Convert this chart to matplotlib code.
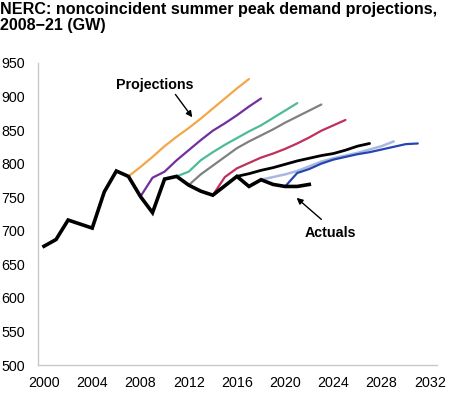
import matplotlib
matplotlib.use("Agg")
import matplotlib.pyplot as plt

plt.rcParams['font.family'] = ['Liberation Sans', 'DejaVu Sans']

# Actual noncoincident summer peak demand (GW)
actual_years = list(range(2000, 2023))
actual_vals = [677, 687, 716, 710, 704, 758, 789, 781, 751, 727, 777, 781,
               768, 759, 753, 767, 781, 766, 776, 769, 766, 766, 769]

# Projections, each starting from the last actual year
proj_starts = [2007, 2008, 2011, 2012, 2014, 2016, 2018, 2020]
proj_vals = [
    [781, 795, 810, 826, 840, 853, 867, 882, 897, 912, 926],
    [751, 779, 788, 805, 820, 835, 849, 860, 872, 885, 897],
    [781, 788, 805, 817, 828, 838, 848, 857, 868, 879, 890],
    [768, 784, 797, 810, 823, 833, 842, 851, 861, 870, 879, 888],
    [753, 780, 793, 801, 809, 815, 822, 830, 839, 849, 857, 865],
    [781, 785, 790, 794, 799, 804, 808, 812, 815, 820, 826, 830],
    [776, 780, 784, 789, 796, 803, 808, 812, 816, 821, 826, 833],
    [766, 786, 792, 800, 806, 810, 814, 817, 821, 825, 829, 830],
]
proj_colors = ['#F4A64A', '#7030A0', '#4DBB9A', '#808080',
               '#C0305A', '#000000', '#A8B8E0', '#2545B0']
proj_widths = [1.6, 1.6, 1.6, 1.6, 1.6, 2.0, 1.8, 1.6]

fig = plt.figure(figsize=(4.52, 3.93), dpi=100)
ax = fig.add_axes([0.084, 0.071, 0.883, 0.769])

for start, vals, c, lw in zip(proj_starts, proj_vals, proj_colors, proj_widths):
    yrs = list(range(start, start + len(vals)))
    ax.plot(yrs, vals, color=c, linewidth=lw, solid_capstyle='round', zorder=2)

ax.plot(actual_years, actual_vals, color='black', linewidth=2.6,
        solid_joinstyle='miter', zorder=3)

ax.set_xlim(1999.5, 2032.6)
ax.set_ylim(500, 950)
ax.set_xticks(range(2000, 2033, 4))
ax.set_yticks(range(500, 951, 50))
ax.tick_params(length=0, labelsize=10.3, colors='black')
ax.tick_params(axis='y', pad=9.5)
ax.tick_params(axis='x', pad=8)
for s in ['top', 'right']:
    ax.spines[s].set_visible(False)
for s in ['left', 'bottom']:
    ax.spines[s].set_color('#C8C8C8')
    ax.spines[s].set_linewidth(1.0)

# annotations
ax.text(2006.0, 917, 'Projections', fontsize=10.3, fontweight='bold',
        ha='left', va='center')
ax.annotate('', xy=(2012.3, 869), xytext=(2010.9, 903),
            arrowprops=dict(arrowstyle='-|>', color='black', lw=1.0,
                            mutation_scale=9, shrinkA=0, shrinkB=0))
ax.text(2021.6, 696, 'Actuals', fontsize=10.3, fontweight='bold',
        ha='left', va='center')
ax.annotate('', xy=(2020.95, 749), xytext=(2023.0, 717),
            arrowprops=dict(arrowstyle='-|>', color='black', lw=1.0,
                            mutation_scale=9, shrinkA=0, shrinkB=0))

fig.text(0.0, 0.995, 'NERC: noncoincident summer peak demand projections,\n2008\u221221 (GW)',
         fontsize=11.6, fontweight='bold', ha='left', va='top', linespacing=1.1)

fig.savefig('out.png', dpi=100, facecolor='white')
